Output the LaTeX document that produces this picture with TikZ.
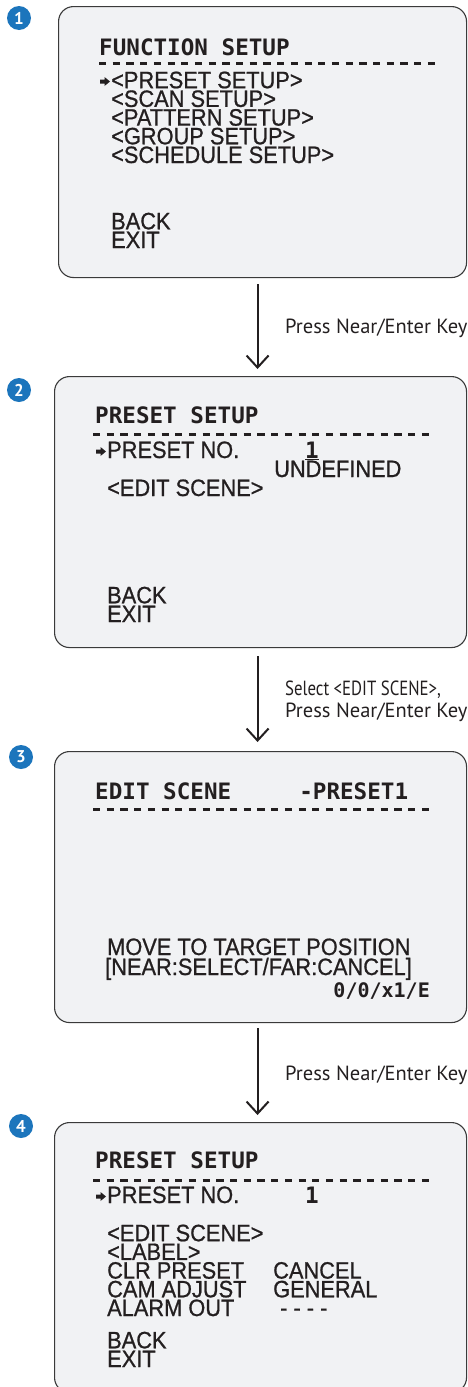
\documentclass[tikz,border=0pt]{standalone}
\usepackage{fontspec}
\setmainfont{PT Sans}
\newfontfamily\osdfont[FakeStretch=0.92, FakeBold=0.8]{Liberation Sans}
\newfontfamily\osdmono{DejaVu Sans Mono}
\usetikzlibrary{arrows.meta}

\definecolor{osdink}{HTML}{231F20}
\definecolor{osdpanel}{HTML}{F1F2F4}
\definecolor{osdedge}{HTML}{3A3A3A}
\definecolor{stepblue}{HTML}{1C75BC}
\setlength{\lineskiplimit}{-100pt}

\tikzset{
  screen/.style={draw=osdedge, fill=osdpanel, line width=1.1pt,
    rounded corners=15pt, anchor=north west},
  badge/.style={circle, fill=stepblue, text=white, inner sep=0pt,
    minimum size=24pt, font=\bfseries\fontsize{17}{17}\selectfont},
  title/.style={anchor=base west, inner sep=0pt, text=osdink,
    font=\osdmono\bfseries\fontsize{22.6}{22.6}\selectfont},
  menu/.style={anchor=base west, inner sep=0pt, text=osdink, align=left,
    font=\osdfont\fontsize{23.7}{18.7}\selectfont},
  rule/.style={draw=osdink, line width=3pt, dash pattern=on 7.2pt off 6.5pt},
  flow/.style={draw=osdink, line width=2pt,
    -{Straight Barb[length=12pt, width=22pt]}},
  note/.style={anchor=base west, inner sep=0pt, text=osdink, align=left,
    font=\fontsize{20.5}{22}\selectfont},
  pics/pointer/.style={code={
    \fill[osdink] (0,-2) -- (4.5,-2) -- (4.5,-4.5) -- (10,0)
      -- (4.5,4.5) -- (4.5,2) -- (0,2) -- cycle;}},
}

\begin{document}
\begin{tikzpicture}[x=1pt, y=-1pt]
\useasboundingbox (0,0) rectangle (468,1387);

% screens
\node[screen, minimum width=408pt, minimum height=271pt] (scr1) at (58,6) {};
\node[screen, minimum width=412pt, minimum height=271pt] (scr2) at (54,376) {};
\node[screen, minimum width=412pt, minimum height=271pt] (scr3) at (54,751) {};
\node[screen, minimum width=412pt, minimum height=270pt] (scr4) at (54,1122) {};

\node[badge] (n1) at (19,18) {1};
\node[badge] (n2) at (19,390) {2};
\node[badge] (n3) at (21,757) {3};
\node[badge] (n4) at (21,1126) {4};

% screen 1 (multi-line nodes sit on their last baseline)
\node[title] (t1) at (99,55) {FUNCTION~SETUP};
\draw[rule] (99,63) -- (435,63);
\pic at (100,81.5) {pointer};
\node[menu] (m1) at (111,163) {<PRESET SETUP>\\<SCAN SETUP>\\<PATTERN SETUP>\\<GROUP SETUP>\\<SCHEDULE SETUP>};
\node[menu] (b1) at (111,248) {BACK\\EXIT};

% screen 2
\node[title] (t2) at (95,423) {PRESET~SETUP};
\draw[rule] (93,434) -- (432,434);
\pic at (96,451.5) {pointer};
\node[menu] (p2) at (107,458) {PRESET NO.};
\node[title] (v2) at (305,458) {\underline{1}};
\node[menu] (u2) at (274,477) {UNDEFINED};
\node[menu] (e2) at (107,496) {<EDIT SCENE>};
\node[menu] (b2) at (107,622) {BACK\\EXIT};

% screen 3
\node[title] (t3) at (95,799) {EDIT~SCENE~~~~~-PRESET1};
\draw[rule] (93,809) -- (432,809);
\node[menu] (g3) at (107,955) {MOVE TO TARGET POSITION};
\node[menu] (c3) at (105,975) {[NEAR:SELECT/FAR:CANCEL]};
\node[title, anchor=base east, font=\osdmono\bfseries\fontsize{20}{20}\selectfont]
  (z3) at (430,997) {0/0/x1/E};

% screen 4
\node[title] (t4) at (95,1168) {PRESET~SETUP};
\draw[rule] (93,1180) -- (432,1180);
\pic at (96,1196.5) {pointer};
\node[menu] (p4) at (107,1203) {PRESET NO.};
\node[title] (v4) at (305,1203) {1};
\node[menu] (m4) at (107,1316) {<EDIT SCENE>\\<LABEL>\\CLR PRESET\\CAM ADJUST\\ALARM OUT};
\node[menu] (s4) at (273,1316) {CANCEL\\GENERAL\\\hspace*{7pt}- - - -};
\node[menu] (b4) at (107,1367) {BACK\\EXIT};

% steps
\draw[flow, shorten <=6pt, shorten >=7pt] ([xshift=-5pt]scr1.south) -- ([xshift=-3pt]scr2.north);
\draw[flow, shorten <=8pt, shorten >=9pt] ([xshift=-3pt]scr2.south) -- ([xshift=-3pt]scr3.north);
\draw[flow, shorten <=5pt, shorten >=7pt] ([xshift=-3pt]scr3.south) -- ([xshift=-3pt]scr4.north);

\node[note] (k1) at (285,333) {Press Near/Enter Key};
\node[note] (k2) at (285,717) {{\addfontfeatures{FakeStretch=0.82}Select <EDIT SCENE>,}\\Press Near/Enter Key};
\node[note] (k3) at (285,1080) {Press Near/Enter Key};

\end{tikzpicture}
\end{document}
